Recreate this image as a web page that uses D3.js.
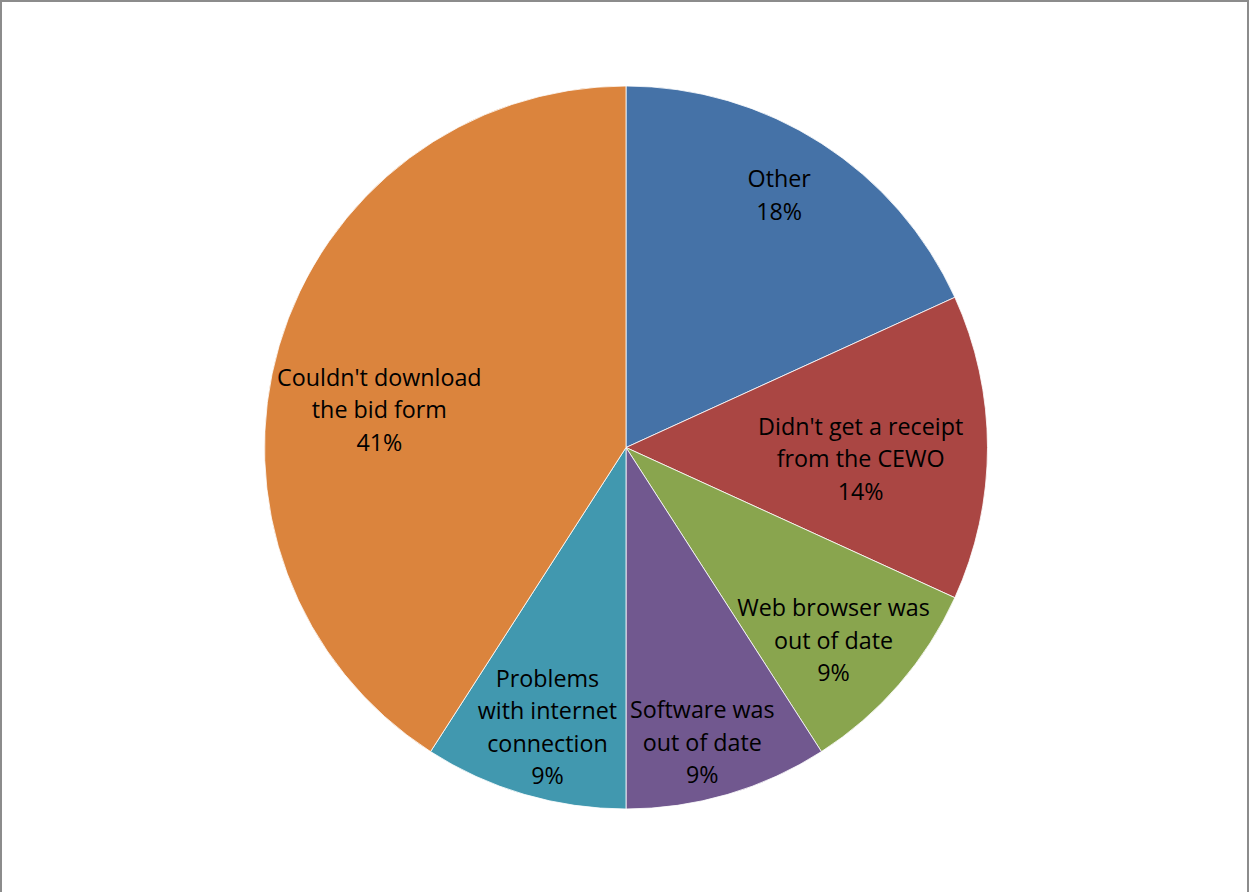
<!DOCTYPE html>
<html>
<head>
<meta charset="utf-8">
<script src="https://cdn.jsdelivr.net/npm/d3@7/dist/d3.min.js"></script>
<style>
  html, body { margin: 0; padding: 0; background: #fff; }
  svg { display: block; }
</style>
</head>
<body>
<svg id="chart" width="1250" height="892"></svg>
<script>
// Problems reported when submitting bids (number of responses)
const categories = [
  ["Other"],
  ["Didn't get a receipt", "from the CEWO"],
  ["Web browser was", "out of date"],
  ["Software was", "out of date"],
  ["Problems", "with internet", "connection"],
  ["Couldn't download", "the bid form"]
];
const counts = [4, 3, 2, 2, 2, 9];
const colors = ["#4572A7", "#AA4643", "#89A54E", "#71588F", "#4198AF", "#DB843D"];

// Label placement along each slice (fraction of radius, angle nudge in degrees)
const labelRadius = [0.815, 0.65, 0.785, 0.845, 0.805, 0.69];
const labelNudge = [-1.4, 2.9, 2.1, 1.9, -0.7, -7.8];

const width = 1250, height = 892;
const cx = 626, cy = 447.5, radius = 361.5;

const svg = d3.select("#chart");

// frame
svg.append("path")
  .attr("d", `M1,${height} L1,1 L${width - 2},1 L${width - 2},${height}`)
  .attr("fill", "none")
  .attr("stroke", "#8c8c8c")
  .attr("stroke-width", 2);

const total = d3.sum(counts);
const data = counts.map((v, i) => ({ value: v, lines: categories[i], color: colors[i], i }));

const pie = d3.pie().value(d => d.value).sort(null);
const arc = d3.arc().innerRadius(0).outerRadius(radius);
const arcs = pie(data);

const g = svg.append("g").attr("transform", `translate(${cx},${cy})`);

g.selectAll("path.slice")
  .data(arcs)
  .join("path")
  .attr("class", "slice")
  .attr("d", arc)
  .attr("fill", d => d.data.color)
  .attr("stroke", "#ffffff")
  .attr("stroke-opacity", 0.8)
  .attr("stroke-width", 1);

const fmt = v => Math.round(v / total * 100) + "%";
const lineH = 32.5;

g.selectAll("text.label")
  .data(arcs)
  .join("text")
  .attr("class", "label")
  .attr("text-anchor", "middle")
  .attr("font-family", "'Open Sans', 'Noto Sans', sans-serif")
  .attr("font-size", 23.3)
  .attr("fill", "#000")
  .each(function (d) {
    const i = d.data.i;
    const a = (d.startAngle + d.endAngle) / 2 + labelNudge[i] * Math.PI / 180;
    const r = radius * labelRadius[i];
    const x = r * Math.sin(a), y = -r * Math.cos(a);
    const lines = d.data.lines.concat([fmt(d.data.value)]);
    const top = y - (lines.length - 1) * lineH / 2 - 0.5;
    const t = d3.select(this);
    lines.forEach((ln, k) => {
      t.append("tspan")
        .attr("x", x)
        .attr("y", top + k * lineH)
        .attr("dy", "0.35em")
        .text(ln);
    });
  });
</script>
</body>
</html>
